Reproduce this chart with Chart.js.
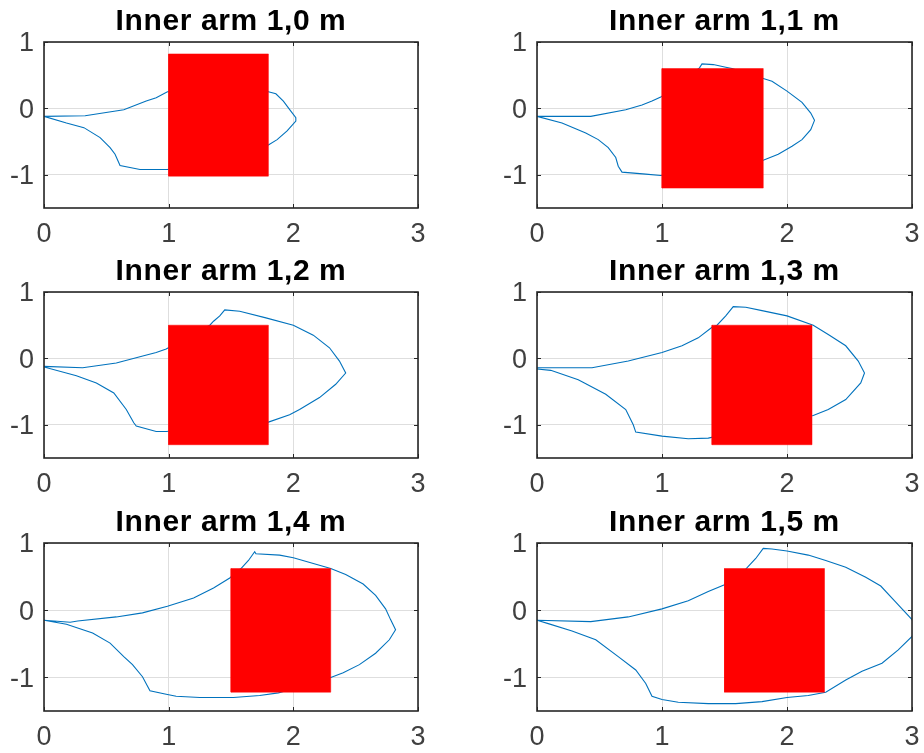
<!DOCTYPE html>
<html>
<head>
<meta charset="utf-8">
<script src="https://cdn.jsdelivr.net/npm/chart.js@4/dist/chart.umd.min.js"></script>
<style>
  body { margin: 0; background: #fff; width: 924px; height: 753px; position: relative; overflow: hidden; }
  canvas { position: absolute; }
</style>
</head>
<body>
<canvas id="c0" width="462" height="250" style="left:0;top:0"></canvas>
<canvas id="c1" width="490" height="250" style="left:462px;top:0"></canvas>
<canvas id="c2" width="462" height="250" style="left:0;top:250px"></canvas>
<canvas id="c3" width="490" height="250" style="left:462px;top:250px"></canvas>
<canvas id="c4" width="462" height="252" style="left:0;top:501px"></canvas>
<canvas id="c5" width="490" height="252" style="left:462px;top:501px"></canvas>
<script>
// tick labels
const xTicks = [0, 1, 2, 3];
const yTicks = [-1, 0, 1];

const titles = ['Inner arm 1,0 m', 'Inner arm 1,1 m', 'Inner arm 1,2 m',
                'Inner arm 1,3 m', 'Inner arm 1,4 m', 'Inner arm 1,5 m'];

// red block corners [x0, x1], [y0, y1]
const blockX = [[1.0, 1.8], [1.0, 1.81], [1.0, 1.8], [1.4, 2.2], [1.5, 2.3], [1.5, 2.3]];
const blockY = [[-1.02, 0.82], [-1.2, 0.6], [-1.3, 0.5], [-1.3, 0.5], [-1.22, 0.62], [-1.22, 0.62]];

// reach boundary per inner arm length (x, y) in m
const reach10 = [[0,-0.12],[0.33,-0.11],[0.64,-0.02],[0.82,0.11],[0.90,0.16],[0.99,0.25],
  [1.80,0.25],[1.86,0.22],[1.92,0.11],[1.98,-0.04],[2.02,-0.14],[2.02,-0.19],[1.95,-0.34],
  [1.87,-0.47],[1.80,-0.55],[0.99,-0.92],[0.77,-0.92],[0.61,-0.86],[0.57,-0.69],[0.53,-0.59],
  [0.45,-0.44],[0.32,-0.29],[0.18,-0.22],[0,-0.12]];
const reach11 = [[0,-0.12],[0.43,-0.12],[0.71,-0.02],[0.84,0.05],[0.92,0.11],[0.99,0.17],
  [1.30,0.61],[1.32,0.67],[1.41,0.66],[1.51,0.62],[1.56,0.60],[1.81,0.45],[1.88,0.41],
  [2.0,0.26],[2.12,0.09],[2.19,-0.07],[2.22,-0.18],[2.19,-0.32],[2.12,-0.47],[2.04,-0.57],
  [1.93,-0.69],[1.81,-0.78],[0.99,-1.01],[0.87,-0.99],[0.68,-0.96],[0.65,-0.87],[0.63,-0.74],
  [0.57,-0.59],[0.49,-0.47],[0.39,-0.37],[0.20,-0.22],[0,-0.12]];
const reach12 = [[0,-0.12],[0.31,-0.14],[0.58,-0.07],[0.80,0.04],[0.90,0.09],[0.98,0.14],
  [1.33,0.50],[1.36,0.56],[1.41,0.64],[1.45,0.73],[1.57,0.71],[1.78,0.61],[2.00,0.50],
  [2.16,0.35],[2.29,0.16],[2.37,-0.04],[2.42,-0.22],[2.34,-0.39],[2.21,-0.59],[2.05,-0.77],
  [1.97,-0.85],[1.80,-0.96],[0.98,-1.10],[0.90,-1.10],[0.74,-1.02],[0.72,-0.97],[0.66,-0.77],
  [0.56,-0.52],[0.42,-0.37],[0.26,-0.26],[0,-0.13]];
const reach13 = [[0,-0.14],[0.44,-0.14],[0.73,-0.04],[1.0,0.09],[1.16,0.19],[1.29,0.31],
  [1.40,0.47],[1.44,0.50],[1.51,0.64],[1.57,0.78],[1.67,0.77],[1.80,0.72],[2.0,0.64],
  [2.21,0.50],[2.33,0.36],[2.47,0.19],[2.57,-0.04],[2.62,-0.22],[2.59,-0.37],[2.47,-0.62],
  [2.33,-0.77],[2.21,-0.86],[1.37,-1.20],[1.21,-1.21],[1.0,-1.17],[0.79,-1.11],[0.77,-1.00],
  [0.71,-0.77],[0.55,-0.54],[0.33,-0.32],[0.11,-0.18],[0,-0.16]];
const reach14 = [[0,-0.15],[0.21,-0.18],[0.27,-0.16],[0.58,-0.10],[0.79,-0.04],[0.99,0.06],
  [1.20,0.18],[1.36,0.33],[1.49,0.48],[1.58,0.62],[1.64,0.74],[1.69,0.87],[1.70,0.84],
  [1.89,0.82],[2.0,0.78],[2.30,0.62],[2.42,0.53],[2.56,0.39],[2.66,0.22],[2.74,0.02],
  [2.78,-0.14],[2.82,-0.29],[2.77,-0.44],[2.66,-0.64],[2.53,-0.81],[2.40,-0.93],[2.30,-1.0],
  [1.88,-1.23],[1.73,-1.27],[1.52,-1.30],[1.25,-1.30],[1.06,-1.28],[0.98,-1.25],[0.85,-1.20],
  [0.79,-0.99],[0.71,-0.81],[0.64,-0.69],[0.53,-0.49],[0.39,-0.34],[0.18,-0.21],[0,-0.15]];
const reach15 = [[0,-0.15],[0.43,-0.17],[0.73,-0.10],[1.0,0.02],[1.21,0.14],[1.37,0.28],
  [1.50,0.38],[1.67,0.61],[1.75,0.77],[1.81,0.92],[1.88,0.91],[2.0,0.88],[2.17,0.82],
  [2.31,0.74],[2.47,0.64],[2.63,0.49],[2.75,0.36],[2.87,0.12],[3.0,-0.14],[3.03,-0.27],
  [3.0,-0.39],[2.89,-0.59],[2.76,-0.79],[2.60,-0.91],[2.47,-1.04],[2.31,-1.22],[2.17,-1.27],
  [2.0,-1.30],[1.80,-1.36],[1.59,-1.39],[1.37,-1.39],[1.13,-1.37],[1.0,-1.33],[0.92,-1.28],
  [0.87,-1.09],[0.79,-0.89],[0.65,-0.69],[0.47,-0.44],[0.28,-0.31],[0.09,-0.20],[0,-0.15]];
const reaches = [reach10, reach11, reach12, reach13, reach14, reach15];

const FONT = "'Liberation Sans', Arial, sans-serif";

// axes box, inward tick marks and a title centred over the plot area
const boxPlugin = {
  id: 'box',
  afterDraw(chart, args, opts) {
    const { ctx, chartArea: a, scales } = chart;
    ctx.save();
    ctx.strokeStyle = '#262626';
    ctx.lineWidth = 1;
    const len = 4;
    ctx.beginPath();
    xTicks.forEach(v => {
      const px = Math.round(scales.x.getPixelForValue(v)) + 0.5;
      ctx.moveTo(px, a.bottom); ctx.lineTo(px, a.bottom - len);
      ctx.moveTo(px, a.top); ctx.lineTo(px, a.top + len);
    });
    yTicks.forEach(v => {
      const py = Math.round(scales.y.getPixelForValue(v)) + 0.5;
      ctx.moveTo(a.left, py); ctx.lineTo(a.left + len, py);
      ctx.moveTo(a.right, py); ctx.lineTo(a.right - len, py);
    });
    ctx.stroke();
    ctx.lineWidth = 1.6;
    ctx.strokeRect(a.left, a.top, a.right - a.left, a.bottom - a.top);

    ctx.fillStyle = '#000';
    ctx.font = 'bold 30px ' + FONT;
    ctx.letterSpacing = '0.6px';
    ctx.textAlign = 'center';
    ctx.textBaseline = 'alphabetic';
    ctx.fillText(opts.text, (a.left + a.right) / 2, 30);
    ctx.restore();
  }
};

function makeChart(i) {
  const right = i % 2 === 1;
  const bx = blockX[i], by = blockY[i];
  const block = [
    { x: bx[0], y: by[0] }, { x: bx[1], y: by[0] }, { x: bx[1], y: by[1] },
    { x: bx[0], y: by[1] }, { x: bx[0], y: by[0] }
  ];
  new Chart(document.getElementById('c' + i), {
    type: 'scatter',
    data: {
      datasets: [
        {
          data: block,
          showLine: true,
          borderColor: '#ff0000',
          borderWidth: 0.5,
          backgroundColor: '#ff0000',
          fill: 'shape',
          pointRadius: 0
        },
        {
          data: reaches[i].map(p => ({ x: p[0], y: p[1] })),
          showLine: true,
          borderColor: '#0072bd',
          borderWidth: 1.1,
          fill: false,
          pointRadius: 0,
          tension: 0
        }
      ]
    },
    options: {
      responsive: false,
      animation: false,
      devicePixelRatio: 1,
      // right-hand canvases run past the window edge, so the plot can reach x = 912
      layout: { padding: { left: 0, right: right ? 40 : 44, top: 42, bottom: 0 } },
      plugins: {
        legend: { display: false },
        tooltip: { enabled: false },
        title: { display: false },
        box: { text: titles[i] }
      },
      scales: {
        x: {
          type: 'linear',
          min: 0, max: 3,
          afterBuildTicks: s => { s.ticks = xTicks.map(v => ({ value: v })); },
          afterFit: s => { s.height = 42; },
          border: { display: false },
          grid: { color: '#dedede', lineWidth: 1, drawTicks: false },
          ticks: { color: '#404040', font: { family: FONT, size: 27 }, padding: 10, maxRotation: 0 }
        },
        y: {
          type: 'linear',
          min: -1.5, max: 1,
          afterBuildTicks: s => { s.ticks = yTicks.map(v => ({ value: v })); },
          afterFit: s => { s.width = right ? 75 : 44; },
          border: { display: false },
          grid: { color: '#dedede', lineWidth: 1, drawTicks: false },
          ticks: { color: '#404040', font: { family: FONT, size: 27 }, padding: 10, labelOffset: 2 }
        }
      }
    },
    plugins: [boxPlugin]
  });
}

for (let i = 0; i < 6; i++) makeChart(i);
</script>
</body>
</html>
